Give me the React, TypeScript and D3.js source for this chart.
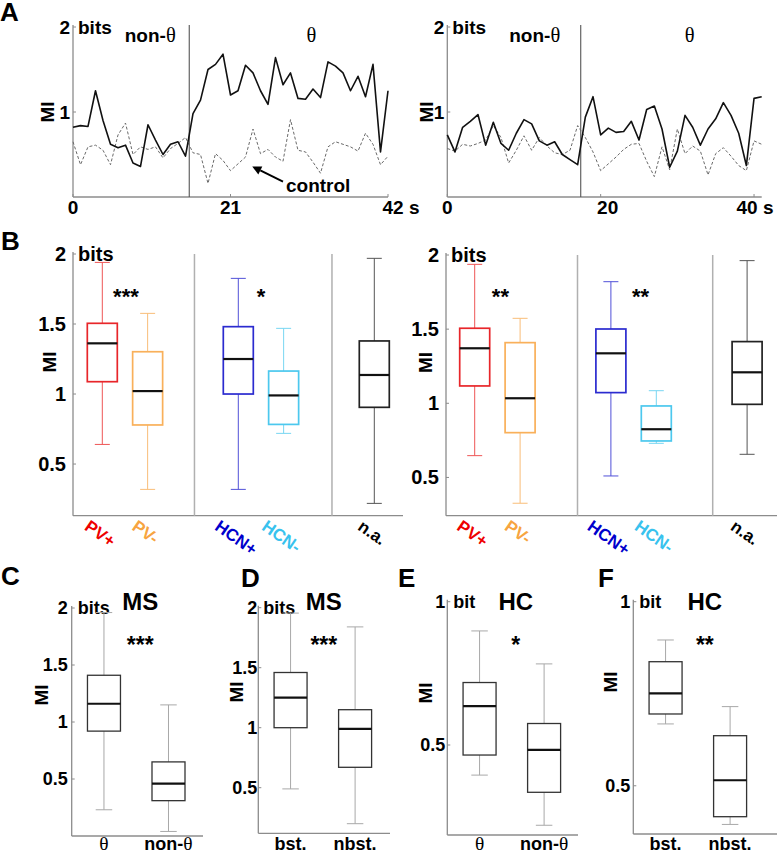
import React, { useEffect, useRef } from 'react';
import * as d3 from 'd3';

// ---------- Panel A data (MI time courses, 1 s bins) ----------
const timesA1 = [0,1,2,3,4,5,6,7,8,9,10,11,12,13,14,15,16,17,18,19,20,21,22,23,24,25,26,27,28,29,30,31,32,33,34,35,36,37,38,39,40,41,42];
const miA1 = [0.82,0.84,0.83,1.25,0.90,0.62,0.58,0.61,0.40,0.36,0.85,0.67,0.50,0.62,0.65,0.48,0.98,1.14,1.50,1.56,1.68,1.20,1.25,1.55,1.46,1.25,1.09,1.64,1.32,1.46,1.16,1.15,1.27,1.17,1.59,1.54,1.46,1.25,1.42,1.18,1.56,0.53,1.25];
const ctrlA1 = [0.65,0.38,0.59,0.61,0.55,0.38,0.73,0.87,0.50,0.59,0.56,0.59,0.46,0.57,0.63,0.70,0.52,0.50,0.16,0.51,0.43,0.31,0.39,0.47,0.80,0.51,0.56,0.47,0.42,0.91,0.55,0.53,0.41,0.28,0.59,0.65,0.62,0.59,0.54,0.75,0.62,0.38,0.48];
const timesA2 = [0,1,2,3,4,5,6,7,8,9,10,11,12,13,14,15,16,17,18,19,20,21,22,23,24,25,26,27,28,29,30,31,32,33,34,35,36,37,38,39,40,41];
const miA2 = [0.73,0.53,0.82,0.89,0.97,0.61,0.88,0.63,0.55,0.75,0.91,0.86,0.66,0.61,0.65,0.50,0.44,0.38,0.94,1.18,0.73,0.81,0.76,0.77,0.89,0.67,1.03,1.07,0.80,0.35,0.54,0.96,0.82,0.61,0.80,0.92,1.11,0.96,0.75,0.37,1.16,1.18];
const ctrlA2 = [0.57,0.54,0.62,0.60,0.63,0.67,0.84,0.70,0.40,0.55,0.72,0.55,0.70,0.60,0.52,0.50,0.55,0.84,0.70,0.53,0.31,0.39,0.47,0.56,0.62,0.63,0.42,0.24,0.59,0.32,0.80,0.51,0.60,0.54,0.26,0.51,0.58,0.48,0.37,0.31,0.66,0.62];
const xTicksA1 = [0, 21, 42];
const xTickLabelsA1 = ['0', '21', '42 s'];
const xTicksA2 = [0, 20, 40];
const xTickLabelsA2 = ['0', '20', '40 s'];
const yTicksA = [1, 2];
const periodLabels = ['non-θ', 'θ'];

// ---------- Panel B data (box stats: low whisker, Q1, median, Q3, high whisker) ----------
const categoriesB = ['PV+', 'PV-', 'HCN+', 'HCN-', 'n.a.'];
const boxesB1 = [
  [0.64, 1.088, 1.362, 1.505, 1.94],
  [0.319, 0.779, 1.021, 1.302, 1.576],
  [0.319, 1.0, 1.25, 1.481, 1.826],
  [0.719, 0.783, 0.99, 1.164, 1.469],
  [0.219, 0.905, 1.136, 1.379, 1.969],
];
const boxesB2 = [
  [0.647, 1.117, 1.371, 1.506, 1.937],
  [0.326, 0.802, 1.034, 1.409, 1.573],
  [0.51, 1.072, 1.337, 1.501, 1.82],
  [0.73, 0.746, 0.825, 0.982, 1.085],
  [0.656, 0.993, 1.209, 1.416, 1.962],
];
const starsB1 = ['***', '*'];
const starsB2 = ['**', '**'];
const yTicksB = [0.5, 1, 1.5, 2];

// ---------- Panels C-F ----------
const categoriesThetaNon = ['θ', 'non-θ'];
const categoriesBurst = ['bst.', 'nbst.'];
const boxesC = [[0.23, 0.92, 1.16, 1.41, 1.96], [0.04, 0.31, 0.46, 0.65, 1.15]];
const boxesD = [[0.49, 1.0, 1.25, 1.46, 1.955], [0.2, 0.67, 0.99, 1.15, 1.84]];
const boxesE = [[0.395, 0.465, 0.636, 0.718, 0.898], [0.22, 0.335, 0.483, 0.575, 0.783]];
const boxesF = [[0.668, 0.695, 0.751, 0.837, 0.896], [0.395, 0.416, 0.515, 0.636, 0.715]];
const starsCF = ['***', '***', '*', '**'];
const titlesCF = ['MS', 'MS', 'HC', 'HC'];
const yTicksMS = [0.5, 1, 1.5, 2];
const yTicksHC = [0.5, 1];

// ---------- styles ----------
const FONT = "'Liberation Sans', Arial, Helvetica, sans-serif";
const SERIF = "'Liberation Serif', 'Times New Roman', serif";
const boxColorsB = ['#e8262a', '#f9b05a', '#2b2bcf', '#4cc8ee', '#222222'];
const whiskerColorsB = ['#ee5555', '#f9bd78', '#5050d8', '#78d6f2', '#555555'];
const labelColorsB = ['#ee0000', '#f7a440', '#0000cc', '#38c2ee', '#000000'];
const AXIS = '#8c8c8c';

type Sel = d3.Selection<any, any, any, any>;

function addText(g: Sel, x: number, y: number, label: string, size: number, anchor: string, weight = 'bold', color = '#000') {
  const t = g.append('text')
    .attr('x', x).attr('y', y)
    .attr('text-anchor', anchor)
    .attr('font-family', FONT)
    .attr('font-size', size)
    .attr('font-weight', weight)
    .attr('fill', color);
  const parts = label.split('θ');
  parts.forEach((p, i) => {
    if (p) t.append('tspan').text(p);
    if (i < parts.length - 1) {
      t.append('tspan').attr('font-family', SERIF).attr('font-weight', 'normal').attr('font-size', size * 1.08).text('θ');
    }
  });
  return t;
}

function drawBox(g: Sel, cx: number, w: number, s: number[], y: any, boxColor: string, whColor: string, boxW: number) {
  const [lo, q1, med, q3, hi] = s;
  const cap = w / 4;
  g.append('line').attr('x1', cx).attr('x2', cx).attr('y1', y(q3)).attr('y2', y(hi)).attr('stroke', whColor).attr('stroke-width', 1);
  g.append('line').attr('x1', cx).attr('x2', cx).attr('y1', y(q1)).attr('y2', y(lo)).attr('stroke', whColor).attr('stroke-width', 1);
  g.append('line').attr('x1', cx - cap).attr('x2', cx + cap).attr('y1', y(hi)).attr('y2', y(hi)).attr('stroke', whColor).attr('stroke-width', 1);
  g.append('line').attr('x1', cx - cap).attr('x2', cx + cap).attr('y1', y(lo)).attr('y2', y(lo)).attr('stroke', whColor).attr('stroke-width', 1);
  g.append('rect').attr('x', cx - w / 2).attr('y', y(q3)).attr('width', w).attr('height', y(q1) - y(q3))
    .attr('fill', 'none').attr('stroke', boxColor).attr('stroke-width', boxW);
  g.append('line').attr('x1', cx - w / 2).attr('x2', cx + w / 2).attr('y1', y(med)).attr('y2', y(med)).attr('stroke', '#111').attr('stroke-width', 2.2);
}

function drawYAxis(g: Sel, x0: number, y: any, ticks: number[], unit: string, size: number, gap: number, unitDx: number) {
  const dom = y.domain();
  g.append('line').attr('x1', x0).attr('x2', x0).attr('y1', y(dom[0])).attr('y2', y(dom[1]) - 2).attr('stroke', AXIS).attr('stroke-width', 1.3);
  ticks.forEach((t, i) => {
    g.append('line').attr('x1', x0).attr('x2', x0 + 3).attr('y1', y(t)).attr('y2', y(t)).attr('stroke', AXIS).attr('stroke-width', 1);
    addText(g, x0 - gap, y(t), String(t), size, 'end').attr('dy', '0.35em');
    if (i === ticks.length - 1) addText(g, x0 + unitDx, y(t), unit, size, 'start').attr('dy', '0.35em');
  });
}

function draw(svgEl: SVGSVGElement) {
  const svg = d3.select(svgEl);
  svg.selectAll('*').remove();
  svg.append('rect').attr('width', 777).attr('height', 853).attr('fill', '#fff');

  // ---------- Panel A ----------
  const aCfgs = [
    { x0: 73, x1: 388, dom: [0, 42], times: timesA1, mi: miA1, ctrl: ctrlA1, div: 15.5, ticks: xTicksA1, labels: xTickLabelsA1, labelDx: [0, 0, 13], nonAt: 10.3, thetaAt: 31.8, arrow: true, miX: 47.5 },
    { x0: 447.3, x1: 761.7, dom: [0, 41], times: timesA2, mi: miA2, ctrl: ctrlA2, div: 17.4, ticks: xTicksA2, labels: xTickLabelsA2, labelDx: [0, 7, 1], nonAt: 11.4, thetaAt: 31.6, arrow: false, miX: 426 },
  ];
  aCfgs.forEach((c) => {
    const g = svg.append('g');
    const x = d3.scaleLinear().domain(c.dom).range([c.x0, c.x1]);
    const y = d3.scaleLinear().domain([0, 2]).range([197, 27]);
    g.append('line').attr('x1', c.x0).attr('x2', c.x1).attr('y1', y(0)).attr('y2', y(0)).attr('stroke', AXIS).attr('stroke-width', 1.3);
    drawYAxis(g, c.x0, y, yTicksA, 'bits', 19, 3, 5);
    c.ticks.forEach((t, i) => {
      g.append('line').attr('x1', x(t)).attr('x2', x(t)).attr('y1', y(0)).attr('y2', y(0) - 3).attr('stroke', AXIS);
      addText(g, x(t) + c.labelDx[i], 213.5, c.labels[i], 19, 'middle');
    });
    g.append('line').attr('x1', x(c.div)).attr('x2', x(c.div)).attr('y1', y(2) - 2).attr('y2', y(0)).attr('stroke', '#555').attr('stroke-width', 1.1);
    addText(g, x(c.nonAt), 42, periodLabels[0], 19, 'middle');
    addText(g, x(c.thetaAt), 42, periodLabels[1], 19, 'middle');
    addText(g, c.miX, y(1), 'MI', 19, 'middle').attr('transform', `rotate(-90, ${c.miX}, ${y(1)})`).attr('dy', '0.35em');
    const lineCtrl = d3.line<number>().x((_, i) => x(c.times[i])).y((d) => y(d));
    g.append('path').attr('d', lineCtrl(c.ctrl)).attr('fill', 'none').attr('stroke', '#6a6a6a').attr('stroke-width', 1).attr('stroke-dasharray', '3,2');
    g.append('path').attr('d', lineCtrl(c.mi)).attr('fill', 'none').attr('stroke', '#111').attr('stroke-width', 1.6).attr('stroke-linejoin', 'round');
    if (c.arrow) {
      const tail = [x(28.0), y(0.18)];
      const tip = [x(23.9), y(0.36)];
      const ang = Math.atan2(tip[1] - tail[1], tip[0] - tail[0]);
      const hl = 9, hw = 4.5;
      const bx = tip[0] - hl * Math.cos(ang), by = tip[1] - hl * Math.sin(ang);
      g.append('line').attr('x1', tail[0]).attr('y1', tail[1]).attr('x2', bx).attr('y2', by).attr('stroke', '#000').attr('stroke-width', 2);
      g.append('path').attr('d', `M${tip[0]},${tip[1]} L${bx + hw * Math.sin(ang)},${by - hw * Math.cos(ang)} L${bx - hw * Math.sin(ang)},${by + hw * Math.cos(ang)} Z`).attr('fill', '#000');
      addText(g, x(28.4), y(0.062), 'control', 19, 'start');
    }
  });
  addText(svg, 0, 21, 'A', 26, 'start');

  // ---------- Panel B ----------
  const bCfgs = [
    { axisX: 73, axisEnd: 403, yDom: [0.131, 2], yTop: 254, xRange: [102.3, 374.3], sepDx: [1.5, 3], boxes: boxesB1, stars: starsB1, starDx: [1, 0], miX: 49, miY: 362 },
    { axisX: 446, axisEnd: 777, yDom: [0.242, 2], yTop: 255, xRange: [474.7, 747.1], sepDx: [12, 11], boxes: boxesB2, stars: starsB2, starDx: [3, 7], miX: 425.7, miY: 362.5 },
  ];
  const slots = ['PV+', 'PV-', 'gap1', 'HCN+', 'HCN-', 'gap2', 'n.a.'];
  bCfgs.forEach((c) => {
    const g = svg.append('g');
    const y = d3.scaleLinear().domain(c.yDom).range([515.7, c.yTop]);
    const x = d3.scalePoint<string>().domain(slots).range(c.xRange);
    g.append('line').attr('x1', c.axisX).attr('x2', c.axisEnd).attr('y1', y(c.yDom[0])).attr('y2', y(c.yDom[0])).attr('stroke', AXIS).attr('stroke-width', 1.3);
    drawYAxis(g, c.axisX, y, yTicksB, 'bits', 20, 7, 5);
    ['gap1', 'gap2'].forEach((s, i) => {
      const sx = (x(s) as number) + c.sepDx[i];
      g.append('line').attr('x1', sx).attr('x2', sx).attr('y1', y(2)).attr('y2', y(c.yDom[0])).attr('stroke', '#b0b0b0').attr('stroke-width', 1.5);
    });
    categoriesB.forEach((cat, i) => {
      const cx = x(cat) as number;
      drawBox(g, cx, 30, c.boxes[i], y, boxColorsB[i], whiskerColorsB[i], 1.7);
      const t = addText(g, 0, 0, cat, 17, 'start', 'bold', labelColorsB[i]);
      const L = (t.node() as SVGTextElement).getComputedTextLength();
      const ang = 35;
      const x0 = cx - 5.5 - (L / 2) * Math.cos((ang * Math.PI) / 180);
      t.attr('transform', `translate(${x0},529) rotate(${ang})`);
    });
    const pairs = [['PV+', 'PV-'], ['HCN+', 'HCN-']];
    pairs.forEach((p, i) => {
      const mx = ((x(p[0]) as number) + (x(p[1]) as number)) / 2 + c.starDx[i];
      addText(g, mx, 304, c.stars[i], 22, 'middle');
    });
    addText(g, c.miX, c.miY, 'MI', 19, 'middle').attr('transform', `rotate(-90, ${c.miX}, ${c.miY})`).attr('dy', '0.35em');
  });
  addText(svg, 1, 250, 'B', 26, 'start');

  // ---------- Panels C-F ----------
  const cfCfgs = [
    { x0: 71.7, xEnd: 203, yDom: [0, 2], yRange: [836, 608], ticks: yTicksMS, unit: 'bits', boxes: boxesC, cats: categoriesThetaNon, dx: 4, letter: 'C', letterX: 1, letterY: 585, miX: 41, miY: 695, gap: 4, unitDx: 6 },
    { x0: 258.3, xEnd: 390, yDom: [0.12, 2], yRange: [833.3, 607.7], ticks: yTicksMS, unit: 'bits', boxes: boxesD, cats: categoriesBurst, dx: 1, letter: 'D', letterX: 241, letterY: 587, miX: 236, miY: 692, gap: 1, unitDx: 5 },
    { x0: 447.3, xEnd: 578, yDom: [0.186, 1], yRange: [835, 601.7], ticks: yTicksHC, unit: 'bit', boxes: boxesE, cats: categoriesThetaNon, dx: 4, letter: 'E', letterX: 398, letterY: 587, miX: 425, miY: 693, gap: 2, unitDx: 6 },
    { x0: 633.3, xEnd: 777, yDom: [0.369, 1], yRange: [834, 601.7], ticks: yTicksHC, unit: 'bit', boxes: boxesF, cats: categoriesBurst, dx: 7, letter: 'F', letterX: 598, letterY: 587, miX: 610, miY: 682, gap: 3, unitDx: 6 },
  ];
  cfCfgs.forEach((c, k) => {
    const g = svg.append('g');
    const y = d3.scaleLinear().domain(c.yDom).range(c.yRange);
    const x = d3.scaleLinear().domain([0.5, 2.53]).range([c.x0, c.x0 + 131]);
    g.append('line').attr('x1', c.x0).attr('x2', c.xEnd).attr('y1', y(c.yDom[0])).attr('y2', y(c.yDom[0])).attr('stroke', AXIS).attr('stroke-width', 1.3);
    drawYAxis(g, c.x0, y, c.ticks, c.unit, 18, c.gap, c.unitDx);
    c.boxes.forEach((b, i) => {
      drawBox(g, x(i + 1), 33, b, y, '#333', '#a8a8a8', 1.3);
      addText(g, x(i + 1), 849.5, c.cats[i], 18, 'middle');
    });
    const mid = (x(1) + x(2)) / 2 + c.dx;
    addText(g, mid, 652.5, starsCF[k], 23, 'middle');
    addText(g, mid, 610, titlesCF[k], 24, 'middle');
    addText(g, c.miX, c.miY, 'MI', 19, 'middle').attr('transform', `rotate(-90, ${c.miX}, ${c.miY})`).attr('dy', '0.35em');
    addText(svg, c.letterX, c.letterY, c.letter, 26, 'start');
  });
}

export default function App() {
  const ref = useRef<SVGSVGElement>(null);
  useEffect(() => {
    if (ref.current) draw(ref.current);
  }, []);
  return (
    <div style={{ position: 'absolute', left: 0, top: 0, width: 777, height: 853, background: '#fff' }}>
      <svg ref={ref} width={777} height={853} style={{ display: 'block' }} />
    </div>
  );
}
